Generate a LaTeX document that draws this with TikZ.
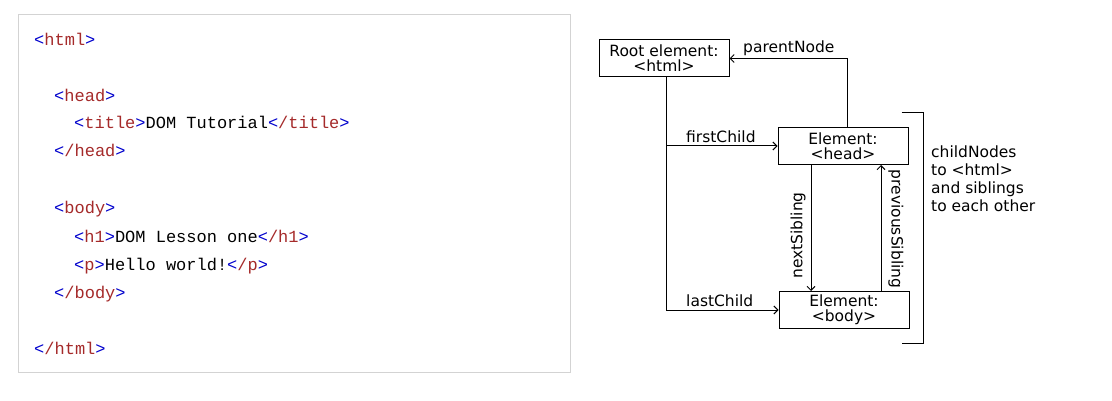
\documentclass[tikz,border=0pt]{standalone}
\usepackage{fontspec}
\usetikzlibrary{arrows.meta}
\newfontfamily\codefont{Liberation Mono}
\newfontfamily\dfont{DejaVu Sans}
\definecolor{tagblue}{RGB}{0,0,205}
\definecolor{tagbrown}{RGB}{165,42,42}
\definecolor{boxgray}{RGB}{211,211,211}
\newcommand\otag[1]{\textcolor{tagblue}{<}\textcolor{tagbrown}{#1}\textcolor{tagblue}{>}}
\newcommand\ctag[1]{\textcolor{tagblue}{<}\textcolor{tagbrown}{/#1}\textcolor{tagblue}{>}}
\begin{document}
\begin{tikzpicture}[x=1pt,y=1pt,
 code/.style={anchor=base west, inner sep=0pt, font=\codefont\fontsize{17}{17}\selectfont},
 elem/.style={draw, line width=1pt, minimum width=130pt, minimum height=37pt, inner sep=0pt, align=center, font=\dfont\fontsize{15.5}{15}\selectfont},
 lbl/.style={inner sep=0pt, font=\dfont\fontsize{15.5}{15}\selectfont},
 conn/.style={line width=1pt},
 arr/.style={conn, -{Straight Barb[length=4pt,width=8pt]}}]
\useasboundingbox (0,0) rectangle (1112,-401);
\fill[white] (0,0) rectangle (1112,-401);
% code panel
\draw[boxgray, line width=1pt] (18.5,-14.5) rectangle (570.5,-372.5);
\node[code] (l1) at (34,-46)  {\otag{html}};
\node[code] (l2) at (54,-102) {\otag{head}};
\node[code] (l3) at (74,-129) {\otag{title}DOM Tutorial\ctag{title}};
\node[code] (l4) at (54,-157) {\ctag{head}};
\node[code] (l5) at (54,-214) {\otag{body}};
\node[code] (l6) at (74,-242) {\otag{h1}DOM Lesson one\ctag{h1}};
\node[code] (l7) at (74,-270) {\otag{p}Hello world!\ctag{p}};
\node[code] (l8) at (54,-298) {\ctag{body}};
\node[code] (l9) at (34,-354) {\ctag{html}};
% DOM diagram
\node[elem] (root) at (664,-58.5) {Root element:\\<html>};
\node[elem] (head) at (843,-146) {Element:\\<head>};
\node[elem] (body) at (844,-310) {Element:\\<body>};
\coordinate (trunk) at ([xshift=2pt]root.south);
\draw[arr] (trunk |- head.west) -- (head.west);
\draw[arr] (trunk) |- (body.west);
\draw[arr] ([xshift=4pt]head.north) |- (root.east);
\coordinate (ns) at ([xshift=-32pt]head.south);
\draw[arr] (ns) -- (ns |- body.north);
\coordinate (ps) at ([xshift=37pt]body.north);
\draw[arr] (ps) -- (ps |- head.south);
\node[lbl, anchor=base west] (fcl) at (686,-143) {firstChild};
\node[lbl, anchor=base west] (lcl) at (686,-306.5) {lastChild};
\node[lbl, anchor=base west] (pnl) at (743,-53) {parentNode};
\node[lbl, rotate=90] (nsl) at (798,-235.5) {nextSibling};
\node[lbl, rotate=-90] (psl) at (896,-229) {previousSibling};
% bracket
\coordinate (b1) at (901.5,-113);
\coordinate (b2) at (923.5,-113);
\coordinate (b3) at (923.5,-343);
\coordinate (b4) at (902,-343);
\draw[conn] (b1) -- (b2) -- (b3) -- (b4);
\node[lbl, anchor=north west, align=left, font=\dfont\fontsize{15.5}{18}\selectfont] (cn) at (931,-145.5) {childNodes\\to <html>\\and siblings\\to each other};
\end{tikzpicture}
\end{document}
